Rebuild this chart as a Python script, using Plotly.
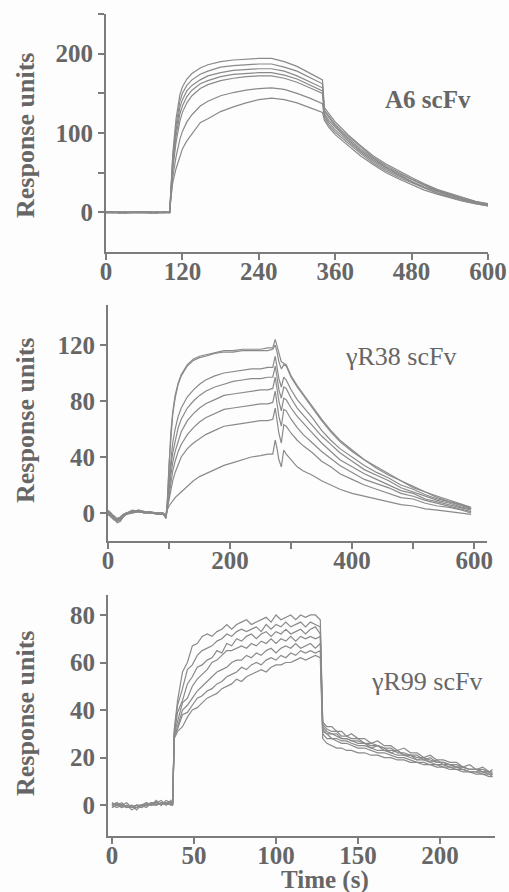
import plotly.graph_objects as go

# ---------------- Panel 1: A6 scFv ----------------
T_A6 = [0, 10, 20, 30, 40, 50, 60, 70, 80, 90, 100,
        102, 105, 110, 116, 120, 127, 135, 148, 160, 180, 200, 220, 240, 260, 280, 300, 320, 340,
        343, 350, 360, 370, 380, 400, 420, 440, 460, 480, 500, 520, 540, 560, 580, 600]
A6_1 = [0, 1, 0, -1, 0, 1, 0, 0, -1, 0, 0,
        30, 75, 118, 148, 158, 168, 175, 182, 186, 190, 192, 193, 194, 194, 190, 184, 176, 167,
        132, 124, 114, 106, 98, 84, 71, 61, 52, 44, 36, 29, 24, 19, 14, 11]
A6_2 = [1, 0, 0, 0, -1, 0, 1, 0, 0, -1, 0,
        28, 70, 110, 140, 150, 160, 167, 174, 178, 183, 185, 186, 187, 187, 183, 178, 170, 162,
        129, 121, 111, 103, 96, 82, 69, 59, 50, 42, 35, 28, 23, 18, 14, 10]
A6_3 = [0, 0, -1, 0, 1, 0, 0, -1, 0, 0, 1,
        26, 65, 103, 132, 142, 153, 160, 167, 172, 176, 179, 180, 181, 181, 178, 172, 165, 157,
        127, 119, 109, 101, 94, 80, 68, 57, 49, 41, 34, 27, 22, 17, 13, 10]
A6_4 = [-1, 0, 1, 0, 0, -1, 0, 1, 0, 0, 0,
        24, 60, 96, 124, 134, 146, 154, 162, 166, 171, 174, 175, 176, 176, 173, 168, 161, 153,
        124, 116, 107, 99, 92, 78, 66, 56, 47, 39, 32, 26, 21, 17, 13, 9]
A6_5 = [0, -1, 0, 1, 0, 0, -1, 0, 1, 0, -1,
        22, 55, 88, 115, 126, 138, 147, 156, 161, 166, 169, 171, 172, 172, 169, 164, 157, 150,
        122, 113, 104, 97, 89, 76, 64, 54, 46, 38, 31, 25, 20, 16, 12, 9]
A6_6 = [1, 0, 0, -1, 0, 0, 1, 0, -1, 1, 0,
        20, 45, 70, 92, 102, 114, 123, 134, 140, 147, 151, 154, 156, 157, 155, 150, 144, 137,
        119, 110, 101, 94, 87, 74, 62, 52, 44, 37, 30, 24, 19, 15, 11, 8]
A6_7 = [0, 1, -1, 0, 0, 1, 0, -1, 0, 0, 0,
        18, 38, 55, 72, 80, 90, 99, 113, 118, 127, 133, 138, 142, 144, 142, 138, 132, 126,
        116, 107, 98, 91, 84, 71, 60, 50, 42, 35, 28, 23, 18, 14, 11, 8]

# ---------------- Panel 2: gammaR38 scFv ----------------
T_R38 = [0, 5, 10, 15, 20, 25, 30, 40, 50, 60, 70, 80, 90, 95,
         97, 100, 103, 106, 110, 115, 120, 130, 140, 150, 160, 175, 190, 205, 220, 235, 250, 262, 270,
         274, 277, 280, 284, 288,
         292, 300, 310, 320, 335, 350, 365, 380, 400, 420, 440, 460, 480, 500, 520, 540, 560, 580, 595]
R38_1 = [0, -2, -4, -4, -3, -1, 0, 1, 1, 0, 0, 0, -1, -2,
         6, 37, 58, 72, 84, 93, 99, 106, 110, 112, 113, 115, 116, 116, 117, 117, 117, 118, 118,
         124, 119, 113, 108, 107,
         106, 98, 91, 85, 76, 67, 59, 52, 45, 38, 33, 28, 23, 19, 15, 12, 9, 6, 4]
R38_2 = [1, -1, -3, -5, -3, -1, 0, 2, 1, 1, 0, 0, 0, -3,
         6, 35, 55, 70, 82, 92, 98, 105, 109, 111, 112, 114, 115, 115, 116, 116, 116, 116, 117,
         120, 115, 108, 103, 106,
         105, 97, 90, 84, 75, 66, 58, 51, 44, 38, 32, 27, 23, 18, 15, 11, 8, 6, 3]
R38_3 = [-1, -3, -5, -6, -4, -2, -1, 1, 2, 1, 0, 0, 0, -2,
         5, 24, 39, 50, 60, 69, 75, 83, 88, 92, 95, 98, 100, 101, 102, 103, 103, 104, 104,
         112, 104, 96, 90, 97,
         95, 88, 81, 76, 68, 59, 52, 46, 40, 34, 29, 25, 20, 17, 13, 10, 8, 5, 3]
R38_4 = [0, -2, -4, -5, -4, -2, 0, 1, 1, 1, 0, 0, -1, -3,
         4, 20, 33, 43, 52, 61, 67, 75, 80, 84, 87, 90, 92, 94, 95, 96, 96, 97, 97,
         105, 97, 88, 82, 90,
         89, 82, 75, 70, 63, 55, 49, 43, 37, 31, 27, 23, 18, 15, 12, 9, 7, 4, 3]
R38_5 = [2, 0, -3, -5, -4, -2, 0, 0, 1, 0, 0, 0, 0, -2,
         4, 16, 27, 36, 44, 52, 58, 66, 71, 75, 78, 81, 84, 85, 86, 87, 88, 88, 89,
         97, 89, 80, 73, 82,
         81, 75, 69, 64, 57, 50, 44, 38, 33, 28, 24, 20, 16, 14, 10, 8, 6, 4, 2]
R38_6 = [0, -1, -4, -7, -6, -3, -1, 1, 2, 1, 1, 0, 0, -4,
         3, 13, 22, 30, 37, 44, 49, 56, 61, 65, 68, 71, 74, 75, 76, 77, 78, 78, 79,
         87, 79, 69, 62, 74,
         73, 67, 61, 56, 50, 44, 39, 34, 29, 24, 21, 18, 14, 12, 9, 7, 5, 3, 1]
R38_7 = [1, -1, -2, -4, -3, -1, 0, 1, 1, 0, 0, 0, 0, -2,
         3, 10, 17, 23, 29, 35, 40, 46, 50, 53, 56, 59, 62, 63, 64, 65, 66, 66, 67,
         75, 67, 57, 50, 63,
         62, 57, 52, 48, 43, 37, 33, 28, 24, 20, 17, 14, 11, 10, 7, 5, 4, 2, 0]
R38_8 = [-1, -2, -4, -6, -5, -2, -1, 0, 1, 0, 0, -1, -1, -3,
         2, 5, 7, 9, 11, 13, 15, 19, 23, 26, 28, 31, 34, 36, 38, 40, 41, 42, 42,
         52, 46, 38, 33, 45,
         42, 38, 33, 30, 27, 23, 20, 17, 14, 12, 10, 8, 6, 5, 3, 2, 1, 0, -1]

# ---------------- Panel 3: gammaR99 scFv ----------------
T_R99 = [0, 3, 6, 9, 12, 15, 18, 21, 24, 27, 30, 33, 36,
         37, 38, 40, 43, 46, 49, 52, 55, 58, 61, 64, 67, 70, 73, 76, 79, 82, 85, 88, 91, 94, 97,
         100, 103, 106, 109, 112, 115, 118, 121, 124, 127,
         128.5, 131, 134, 137, 140, 143, 146, 150, 154, 158, 162, 166, 170, 174, 178, 182, 186,
         190, 194, 198, 202, 206, 210, 214, 218, 222, 226, 230, 232]
R99_1 = [0, 1, -1, 0, -1, -1, 0, 0, 1, 0, 1, 1, 1,
         1, 32, 44, 56, 60, 67, 68, 71, 72, 71, 73, 74, 76, 74, 76, 77, 78, 76, 77, 78, 79, 77,
         80, 78, 79, 80, 78, 80, 79, 80, 80, 78,
         35, 33, 33, 31, 31, 29, 30, 28, 28, 26, 27, 25, 25, 23, 24, 22, 22,
         20, 21, 19, 19, 18, 18, 16, 17, 15, 16, 14, 15]
R99_2 = [1, 0, 0, -1, -1, 0, -1, 1, 0, 1, 0, 1, 0,
         0, 31, 42, 49, 57, 59, 63, 65, 66, 67, 69, 70, 72, 71, 73, 74, 73, 74, 75, 73, 76, 74,
         76, 75, 77, 75, 76, 77, 75, 77, 76, 75,
         34, 32, 31, 31, 29, 29, 28, 28, 26, 26, 25, 24, 24, 22, 22, 21, 21,
         19, 20, 18, 18, 17, 17, 16, 15, 15, 15, 14, 14]
R99_3 = [-1, 0, 1, -1, 0, -2, 0, 0, 1, 1, 2, 0, 1,
         0, 30, 39, 44, 51, 54, 58, 59, 61, 62, 65, 64, 68, 67, 70, 69, 71, 72, 70, 72, 73, 71,
         73, 72, 74, 72, 73, 74, 72, 74, 75, 72,
         33, 31, 30, 30, 28, 28, 27, 27, 26, 25, 25, 23, 23, 23, 21, 21, 20,
         20, 19, 18, 18, 17, 16, 16, 15, 15, 14, 14, 13]
R99_4 = [0, -1, 0, 1, -1, 0, -1, 0, 0, 2, 0, 1, 1,
         1, 30, 35, 43, 45, 50, 53, 55, 57, 60, 61, 63, 65, 65, 66, 67, 66, 68, 67, 69, 68, 70,
         68, 70, 69, 71, 69, 71, 70, 71, 70, 71,
         32, 30, 30, 29, 28, 28, 27, 26, 26, 24, 25, 24, 22, 23, 21, 21, 19,
         20, 18, 19, 17, 17, 16, 16, 15, 15, 14, 14, 13]
R99_5 = [1, 0, -1, 0, -2, -1, 0, 1, 0, 0, 1, 0, 2,
         0, 29, 33, 40, 42, 45, 48, 50, 52, 54, 56, 57, 58, 60, 61, 61, 63, 62, 64, 63, 65, 66,
         64, 66, 67, 66, 68, 66, 67, 68, 66, 68,
         31, 30, 28, 28, 27, 27, 26, 25, 25, 24, 23, 23, 22, 21, 21, 20, 19,
         19, 18, 17, 17, 16, 16, 15, 14, 14, 14, 13, 13]
R99_6 = [0, 1, 0, -1, 0, -1, 0, -1, 1, 0, 1, 1, 0,
         1, 29, 32, 38, 39, 42, 45, 46, 48, 49, 51, 52, 54, 55, 56, 58, 57, 59, 60, 59, 61, 62,
         61, 63, 62, 64, 63, 65, 64, 65, 64, 65,
         30, 28, 28, 27, 26, 26, 25, 24, 24, 23, 22, 22, 21, 20, 20, 19, 18,
         18, 17, 17, 16, 16, 15, 15, 14, 14, 13, 13, 12]
R99_7 = [-1, 0, 0, -1, -1, 0, 0, 0, 1, 1, 0, 2, 1,
         0, 28, 31, 33, 37, 40, 41, 43, 45, 46, 47, 49, 50, 51, 53, 52, 54, 55, 56, 57, 56, 58,
         59, 59, 60, 60, 61, 62, 61, 62, 63, 62,
         28, 26, 25, 24, 24, 23, 23, 22, 22, 21, 21, 20, 20, 19, 19, 18, 18,
         17, 17, 16, 16, 15, 15, 14, 14, 13, 13, 12, 12]

A6_TICKS = [0, 120, 240, 360, 480, 600]
R38_XTICKS = [0, 100, 200, 300, 400, 500, 600]
R38_XLABELS = ["0", "", "200", "", "400", "", "600"]
R99_XTICKS = [0, 50, 100, 150, 200]

W, H = 509, 892
LINE = "#8a8a8a"
AX = "#7c7c7c"
TXT = "#666666"
FONT = "Liberation Serif"

fig = go.Figure()

def add(xs, ys, n):
    fig.add_trace(go.Scatter(x=xs, y=ys, mode="lines", xaxis="x" + n, yaxis="y" + n,
                             line=dict(color=LINE, width=1.2), showlegend=False, hoverinfo="skip"))

for c in [A6_1, A6_2, A6_3, A6_4, A6_5, A6_6, A6_7]:
    add(T_A6, c, "")
for c in [R38_1, R38_2, R38_3, R38_4, R38_5, R38_6, R38_7, R38_8]:
    add(T_R38, c, "2")
for c in [R99_1, R99_2, R99_3, R99_4, R99_5, R99_6, R99_7]:
    add(T_R99, c, "3")

tickfont = dict(family=FONT, size=25, color=TXT, weight="bold")

def px(x):
    return x / W

def py(y):
    return 1 - y / H

common = dict(showline=True, linecolor=AX, linewidth=2, ticks="outside", ticklen=6,
              tickwidth=2, tickcolor=AX, showgrid=False, zeroline=False, tickfont=tickfont,
              fixedrange=True, automargin=False, ticklabeloverflow="allow")
xcommon = dict(ticklabelstandoff=-10, **common)

fig.update_layout(
    width=W, height=H, margin=dict(l=0, r=0, t=0, b=0, autoexpand=False),
    paper_bgcolor="#fdfdfd", plot_bgcolor="#fdfdfd",
    xaxis=dict(domain=[px(106), px(488)], range=[0, 600], tickvals=A6_TICKS,
               anchor="y", **xcommon),
    yaxis=dict(domain=[py(252), py(14)], range=[-50, 250], tickvals=[0, 100, 200],
               minor=dict(tickvals=[50, 150, 250], ticks="outside", ticklen=6, tickwidth=2,
                          tickcolor=AX),
               anchor="x", **common),
    xaxis2=dict(domain=[px(108), px(487)], range=[0, 621], tickvals=R38_XTICKS,
                ticktext=R38_XLABELS, anchor="y2", **xcommon),
    yaxis2=dict(domain=[py(541), py(305)], range=[-20, 148.6], tickvals=[0, 40, 80, 120],
                anchor="x2", **common),
    xaxis3=dict(domain=[px(108), px(495)], range=[-2.4, 233.5], tickvals=R99_XTICKS,
                anchor="y3", **xcommon),
    yaxis3=dict(domain=[py(836), py(595)], range=[-13, 88.4], tickvals=[0, 20, 40, 60, 80],
                anchor="x3", **common),
)

ann = []
for yc in [136, 421, 714]:
    ann.append(dict(text="Response units", x=px(25), y=py(yc), xref="paper", yref="paper",
                    showarrow=False, textangle=-90, xanchor="center", yanchor="middle",
                    font=dict(family=FONT, size=26, color=TXT, weight="bold")))
ann.append(dict(text="Time (s)", x=px(325), y=py(880), xref="paper", yref="paper",
                showarrow=False, xanchor="center", yanchor="middle",
                font=dict(family=FONT, size=25, color=TXT, weight="bold")))
ann.append(dict(text="A6 scFv", x=px(428), y=py(100), xref="paper", yref="paper",
                showarrow=False, xanchor="center", yanchor="middle",
                font=dict(family=FONT, size=25, color=TXT, weight="bold")))
ann.append(dict(text="γR38 scFv", x=px(400), y=py(356), xref="paper", yref="paper",
                showarrow=False, xanchor="center", yanchor="middle",
                font=dict(family=FONT, size=26, color=TXT)))
ann.append(dict(text="γR99 scFv", x=px(426), y=py(681), xref="paper", yref="paper",
                showarrow=False, xanchor="center", yanchor="middle",
                font=dict(family=FONT, size=26, color=TXT)))
fig.update_layout(annotations=ann)

# Remove the default page margin/scrollbars so the 509x892 figure fills the window exactly.
fig.write_html("out.html",
               config={"displayModeBar": False, "staticPlot": True},
               post_script="document.body.style.margin='0px';"
                           "document.documentElement.style.overflow='hidden';"
                           "document.body.style.overflow='hidden';")
